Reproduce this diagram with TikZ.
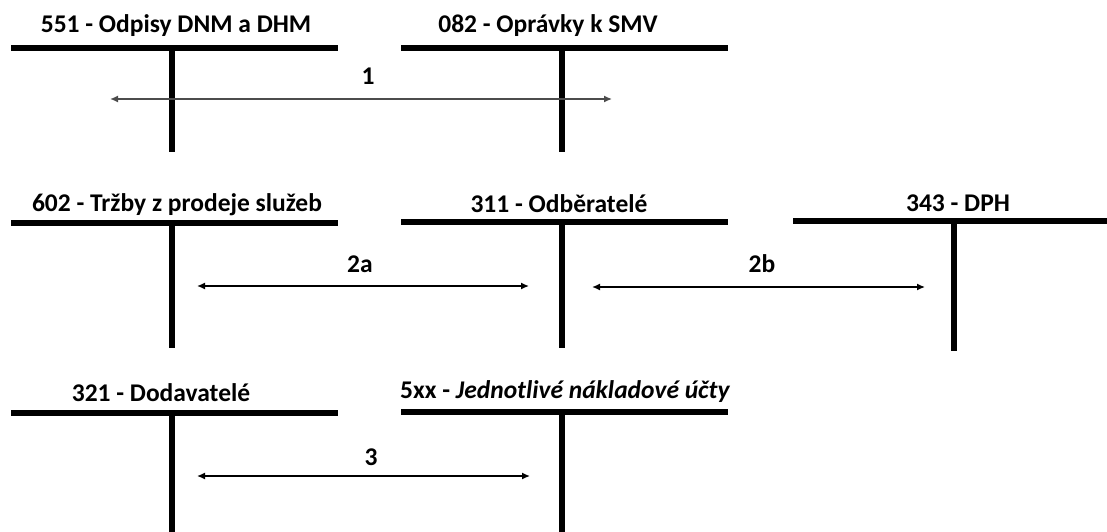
\documentclass[tikz,border=0pt]{standalone}
\usepackage{fontspec}
\setmainfont{Carlito}
\usetikzlibrary{arrows.meta}
\begin{document}
\begin{tikzpicture}[x=1pt,y=-1pt,
  bar/.style={line width=5.5pt},
  lbl/.style={font=\fontsize{25.5}{30}\selectfont\bfseries, inner sep=0pt, anchor=base},
  flow/.style={{Latex[length=8pt,width=7pt]}-{Latex[length=8pt,width=7pt]}, line width=1.4pt},
  greyflow/.style={flow, draw=black!70}]
\useasboundingbox (0,0) rectangle (1107,532);
% T-accounts
\draw[bar] (11,48) -- (338,48) (172,48) -- (172,152);
\draw[bar] (401,48) -- (728,48) (562,48) -- (562,152);
\draw[bar] (11,223) -- (338,223) (172,223) -- (172,348);
\draw[bar] (401,222) -- (728,222) (562,222) -- (562,348);
\draw[bar] (793,221) -- (1107,221) (954,221) -- (954,351);
\draw[bar] (11,413) -- (338,413) (172,413) -- (172,532);
\draw[bar] (401,412) -- (728,412) (562,412) -- (562,532);
% titles
\node[lbl] (t551) at (176,33) {551 - Odpisy DNM a DHM};
\node[lbl] (t082) at (548,33) {082 - Oprávky k SMV};
\node[lbl] (t602) at (177,211) {602 - Tržby z prodeje služeb};
\node[lbl] (t311) at (559,212) {311 - Odběratelé};
\node[lbl] (t343) at (958,211) {343 - DPH};
\node[lbl] (t321) at (161,401) {321 - Dodavatelé};
\node[lbl, anchor=base west] (t5xx) at (400,398) {5xx - \textit{Jednotlivé nákladové účty}};
% arrow ends
\coordinate (a1l) at (110,99);  \coordinate (a1r) at (612,99);
\coordinate (a2l) at (197,286); \coordinate (a2r) at (529,286);
\coordinate (b2l) at (592,287); \coordinate (b2r) at (925,287);
\coordinate (a3l) at (197,476); \coordinate (a3r) at (530,476);
\draw[greyflow] (a1l) -- (a1r);
\draw[flow] (a2l) -- (a2r);
\draw[flow] (b2l) -- (b2r);
\draw[flow] (a3l) -- (a3r);
% labels
\node[lbl] (l1) at (368,85) {1};
\node[lbl] (l2a) at (360,272) {2a};
\node[lbl] (l2b) at (762,272) {2b};
\node[lbl] (l3) at (371,465) {3};
\end{tikzpicture}
\end{document}
